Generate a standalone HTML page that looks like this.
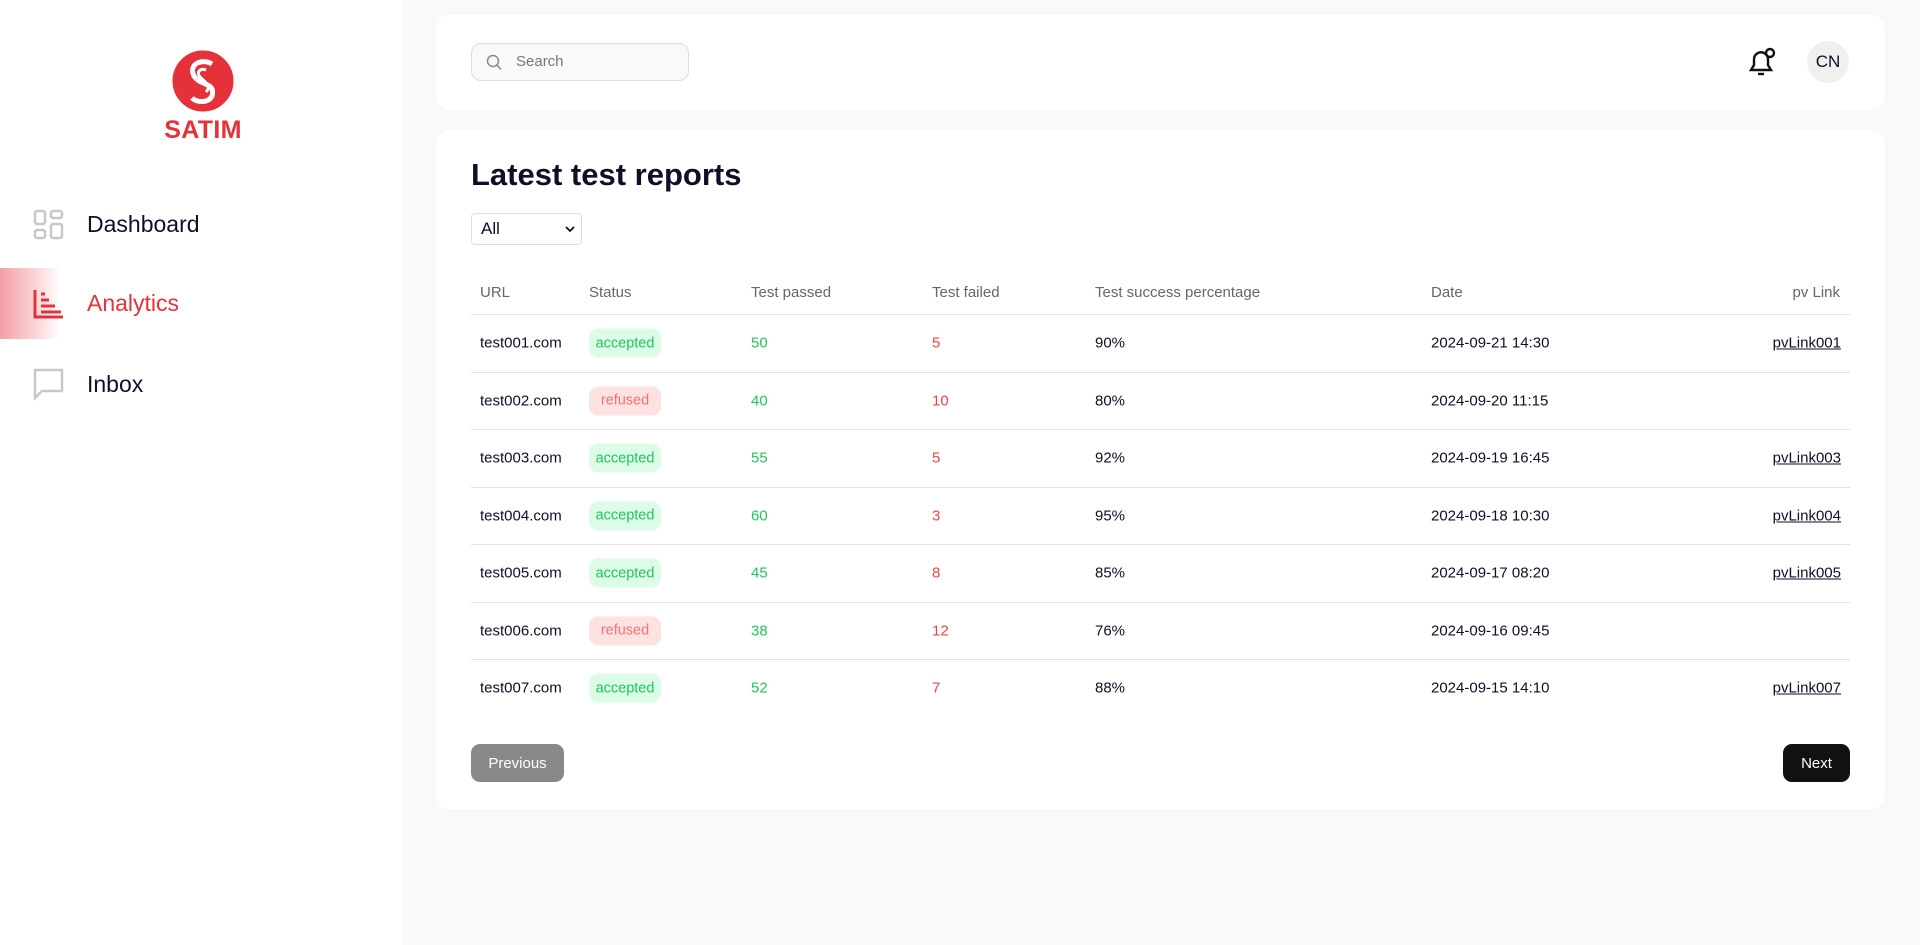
<!DOCTYPE html>
<html><head><meta charset="utf-8"><style>
*{box-sizing:border-box;margin:0;padding:0}
body{width:1920px;height:945px;background:#f9f9f9;font-family:"Liberation Sans","DejaVu Sans",sans-serif;position:relative;overflow:hidden;color:#0f0f2a}
.sidebar{position:absolute;left:0;top:0;width:402px;height:945px;background:#fff}
.nav{position:absolute;left:0;width:402px;height:70px;display:flex;align-items:center}
.nav span{position:absolute;left:87px;font-size:23px}
.nav svg{position:absolute;left:33px}
.card{position:absolute;background:#fff;border-radius:14px}
.abs{position:absolute}
.row{position:absolute;left:471px;width:1379px;height:57.5px;border-top:1.5px solid #e2e2e2}
.cell{position:absolute;font-size:15px;top:50%;transform:translateY(-50%);white-space:nowrap}
.badge{position:absolute;left:118px;top:50%;transform:translateY(-50%);width:72px;height:29px;border-radius:9px;font-size:14.5px;display:flex;align-items:center;justify-content:center}
.acc{background:#dcfce7;color:#22c55e}.ref{background:#fee2e2;color:#f87171}
.th{position:absolute;top:284px;font-size:15px;color:#666}
.btn{position:absolute;top:744px;height:38px;border-radius:9px;color:#fff;font-size:15px;display:flex;align-items:center;justify-content:center}
</style></head><body>
<div class="sidebar">
 <div class="abs" style="left:150px;top:48px;width:106px;height:100px">
  <svg class="abs" style="left:22px;top:2px" width="62" height="62" viewBox="0 0 62 62"><circle cx="31" cy="31" r="30" fill="#e5323a"/><path d="M40 14 C30 8 16 14 22 26 C28 36 44 32 40 46 C36 54 24 52 20 48" stroke="#fff" stroke-width="5" fill="none"/><path d="M34 20 C28 18 24 22 28 27 C33 32 40 36 34 42" stroke="#fff" stroke-width="3" fill="none"/><circle cx="31" cy="31" r="30" stroke="#e5323a" stroke-width="1" fill="none"/></svg>
  <div class="abs" style="left:0;top:68px;width:106px;text-align:center;font-size:25px;font-weight:bold;color:#e5323a;letter-spacing:0.3px">SATIM</div>
 </div>
 <div class="nav" style="top:189px">
  <svg width="31" height="31" viewBox="0 0 31 31" fill="none" stroke="#c8c8c8" stroke-width="2.5"><rect x="2" y="2" width="10" height="13" rx="2"/><rect x="18" y="2" width="11" height="7" rx="2"/><rect x="2" y="21" width="10" height="8" rx="2"/><rect x="18" y="15" width="11" height="14" rx="2"/></svg>
  <span>Dashboard</span></div>
 <div class="nav" style="top:268px;height:71px;background:linear-gradient(90deg,#f4a0a4 0%,#fbd6d8 9%,#fff 15%)">
  <svg width="31" height="31" viewBox="0 0 31 31" fill="none" stroke="#e5323a" stroke-width="3"><path d="M2 2 V29 H30"/><path d="M8 12 H16 M8 18 H22 M8 24 H28"/><path d="M8 6 H12"/></svg>
  <span style="color:#e5323a">Analytics</span></div>
 <div class="nav" style="top:349px">
  <svg width="31" height="33" viewBox="0 0 31 33" fill="none" stroke="#c8c8c8" stroke-width="2.5"><path d="M2 2 H29 V23 H9 L2 30 Z"/></svg>
  <span>Inbox</span></div>
</div>

<div class="card" style="left:436px;top:15px;width:1449px;height:95px"></div>
<div class="abs" style="left:471px;top:43px;width:218px;height:38px;border:1.5px solid #ddd;border-radius:10px;background:#f9f9f9">
 <svg class="abs" style="left:14px;top:10px" width="16" height="17" viewBox="0 0 16 17" fill="none" stroke="#888" stroke-width="1.5"><circle cx="7" cy="7" r="5.5"/><path d="M11 11 L15 15.5"/></svg>
 <span class="abs" style="left:44px;top:9px;font-size:15px;color:#777">Search</span></div>
<svg class="abs" style="left:1745px;top:45px" width="34" height="34" viewBox="0 0 34 34" fill="none" stroke="#111" stroke-width="2.4"><path d="M6 25 H26 L23 20 V14 A7 7 0 0 0 13 8 A7 7 0 0 0 9 14 V20 Z"/><path d="M13 29 H19"/><circle cx="25" cy="8" r="4"/></svg>
<div class="abs" style="left:1807px;top:41px;width:42px;height:42px;border-radius:50%;background:#f0f0f0;display:flex;align-items:center;justify-content:center;font-size:17px">CN</div>

<div class="card" style="left:436px;top:130px;width:1449px;height:679px"></div>
<div class="abs" style="left:471px;top:157px;font-size:31px;font-weight:bold">Latest test reports</div>
<div class="abs" style="left:471px;top:213px;width:111px;height:32px;border:1.5px solid #ddd;border-radius:4px;background:#fff">
 <span class="abs" style="left:9px;top:5px;font-size:17px">All</span>
 <svg class="abs" style="left:93px;top:12px" width="10" height="7" viewBox="0 0 10 7" fill="none" stroke="#111" stroke-width="1.8"><path d="M1 1 L5 5 L9 1"/></svg></div>

<div class="th" style="left:480px">URL</div>
<div class="th" style="left:589px">Status</div>
<div class="th" style="left:751px">Test passed</div>
<div class="th" style="left:932px">Test failed</div>
<div class="th" style="left:1095px">Test success percentage</div>
<div class="th" style="left:1431px">Date</div>
<div class="th" style="right:80px">pv Link</div>

<div id="rows"></div>

<div class="btn" style="left:471px;width:93px;background:#888">Previous</div>
<div class="btn" style="left:1783px;width:67px;background:#111">Next</div>

<script>
const urls=["test001.com","test002.com","test003.com","test004.com","test005.com","test006.com","test007.com"];
const statuses=["accepted","refused","accepted","accepted","accepted","refused","accepted"];
const passed=[50,40,55,60,45,38,52];
const failed=[5,10,5,3,8,12,7];
const pct=["90%","80%","92%","95%","85%","76%","88%"];
const dates=["2024-09-21 14:30","2024-09-20 11:15","2024-09-19 16:45","2024-09-18 10:30","2024-09-17 08:20","2024-09-16 09:45","2024-09-15 14:10"];
const links=["pvLink001","","pvLink003","pvLink004","pvLink005","","pvLink007"];
const host=document.getElementById('rows');
urls.forEach((u,i)=>{
 const r=document.createElement('div');
 r.className='row';
 
 
 r.style.top=(314+i*57.5)+'px';
 const mk=(txt,left,color,name)=>{const c=document.createElement('div');c.className='cell';c.textContent=txt;c.style.left=left+'px';if(color)c.style.color=color;
  
  
  r.appendChild(c);};
 mk(u,9,null,'url-cell');
 const b=document.createElement('div');
 b.className='badge '+(statuses[i]==='accepted'?'acc':'ref');
 b.textContent=statuses[i];
 
 
 r.appendChild(b);
 mk(String(passed[i]),280,'#22c55e','passed-cell');
 mk(String(failed[i]),461,'#ef4444','failed-cell');
 mk(pct[i],624,null,'percentage-cell');
 mk(dates[i],960,null,'date-cell');
 if(links[i]){const a=document.createElement('a');a.className='cell';a.textContent=links[i];a.style.right='9px';a.style.color='#0f0f2a';a.style.textDecoration='underline';
  
  
  r.appendChild(a);}
 host.appendChild(r);
});
</script>
</body></html>
